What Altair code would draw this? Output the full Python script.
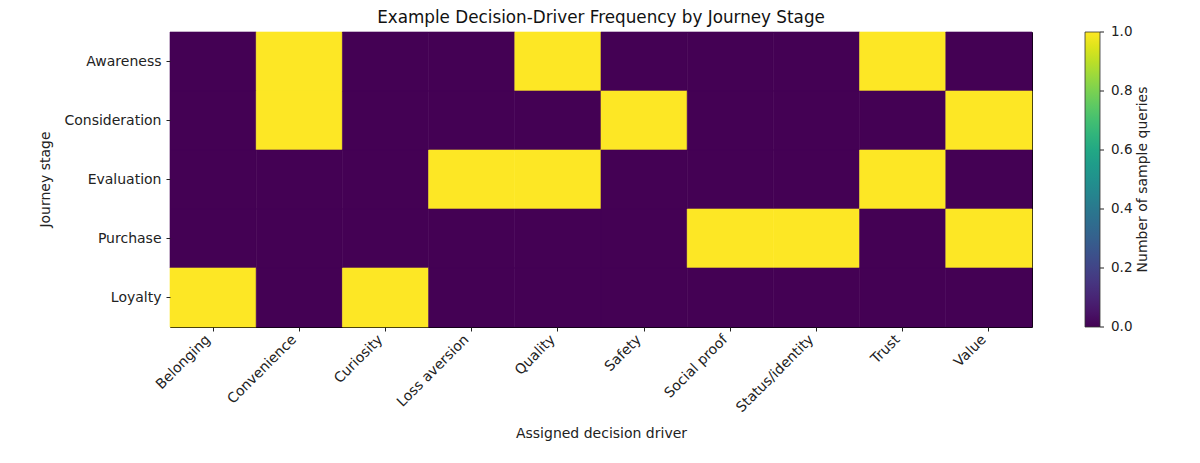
import altair as alt
import pandas as pd

stages = ["Awareness", "Consideration", "Evaluation", "Purchase", "Loyalty"]
drivers = ["Belonging", "Convenience", "Curiosity", "Loss aversion", "Quality",
           "Safety", "Social proof", "Status/identity", "Trust", "Value"]

# counts per stage, in driver order
awareness = [0, 1, 0, 0, 1, 0, 0, 0, 1, 0]
consideration = [0, 1, 0, 0, 0, 1, 0, 0, 0, 1]
evaluation = [0, 0, 0, 1, 1, 0, 0, 0, 1, 0]
purchase = [0, 0, 0, 0, 0, 0, 1, 1, 0, 1]
loyalty = [1, 0, 1, 0, 0, 0, 0, 0, 0, 0]

colorbar_title = "Number of sample queries"
colorbar_ticks = [0.0, 0.2, 0.4, 0.6, 0.8, 1.0]

rows = [awareness, consideration, evaluation, purchase, loyalty]
df = pd.DataFrame(
    [{"stage": s, "driver": d, "count": v}
     for s, vals in zip(stages, rows) for d, v in zip(drivers, vals)]
)
ticks_df = pd.DataFrame({"v": colorbar_ticks, "label": [f"{t:.1f}" for t in colorbar_ticks]})

FONT = "DejaVu Sans"

heat = (
    alt.Chart(df)
    .mark_rect(strokeWidth=0.6)
    .encode(
        x=alt.X("driver:N", sort=drivers, title="Assigned decision driver",
                scale=alt.Scale(paddingInner=0, paddingOuter=0),
                axis=alt.Axis(labelAngle=315, labelAlign="right", labelBaseline="bottom",
                              labelPadding=11, titleY=106, titleBaseline="middle")),
        y=alt.Y("stage:N", sort=stages, title="Journey stage",
                scale=alt.Scale(paddingInner=0, paddingOuter=0),
                axis=alt.Axis(labelPadding=5, titleX=-125, titleY=147,
                              titleBaseline="middle", titleAlign="center")),
        color=alt.Color(
            "count:Q",
            scale=alt.Scale(scheme="viridis", domain=[0, 1]),
            legend=alt.Legend(
                title=None, orient="none", type="gradient",
                legendX=915, legendY=0, direction="vertical",
                gradientLength=295, gradientThickness=15,
                gradientStrokeColor="#333", gradientStrokeWidth=0.8,
                labelExpr="''",
            ),
        ),
        # stroke in the cell's own colour hides hairline seams between cells
        stroke=alt.condition(alt.datum["count"] > 0.5, alt.value("#fde725"), alt.value("#440154")),
        tooltip=["stage:N", "driver:N", "count:Q"],
    )
)

cb_y = alt.Y("v:Q", scale=alt.Scale(domain=[0, 1]), axis=None)

# colorbar tick marks + labels (legend's own labels get nudged inward at the ends)
cb_ticks = (
    alt.Chart(ticks_df)
    .mark_rule(color="#222", strokeWidth=1)
    .encode(y=cb_y, x=alt.value(930), x2=alt.value(934))
)
cb_labels = (
    alt.Chart(ticks_df)
    .mark_text(align="left", baseline="middle", font=FONT, fontSize=13.5, color="#222")
    .encode(y=cb_y, x=alt.value(941), text="label:N")
)

# rotated colorbar title (Vega-Lite legends can't rotate their title)
cb_title = (
    alt.Chart(pd.DataFrame({"t": [colorbar_title]}))
    .mark_text(angle=270, font=FONT, fontSize=14, color="#222", baseline="middle")
    .encode(text="t:N", x=alt.value(973), y=alt.value(147.5))
)

chart = (
    alt.layer(heat, cb_ticks, cb_labels, cb_title)
    .resolve_scale(y="independent")
    .properties(
        width=862, height=295,
        # offset is measured from the "1.0" label's top, which sits above the plot
        title=alt.TitleParams("Example Decision-Driver Frequency by Journey Stage",
                              font=FONT, fontSize=16.8, fontWeight="normal",
                              color="#111", anchor="middle", offset=-2),
        autosize=alt.AutoSizeParams(type="none"),
        padding={"left": 162, "top": 24, "right": 160, "bottom": 128},
    )
    .configure_view(stroke="black", strokeWidth=1)
    .configure_axis(
        labelFont=FONT, labelFontSize=14, labelColor="#222",
        titleFont=FONT, titleFontSize=14, titleFontWeight="normal", titleColor="#222",
        tickColor="#222", tickSize=4, domain=False, grid=False,
    )
)

chart.save("out.html", embed_options={"renderer": "svg", "actions": False})
